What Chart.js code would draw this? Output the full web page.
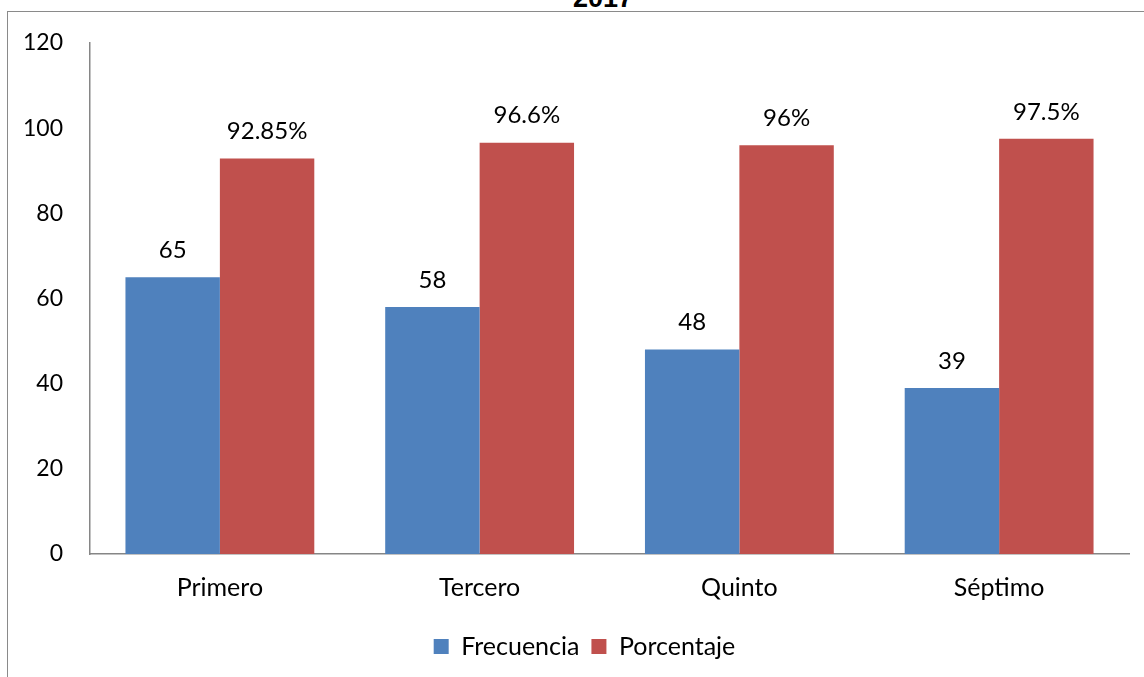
<!DOCTYPE html>
<html>
<head>
<meta charset="utf-8">
<script src="https://cdn.jsdelivr.net/npm/chart.js@4.4.0/dist/chart.umd.min.js"></script>
<style>
  body { margin: 0; background: #fff; overflow: hidden; }
  #wrap { position: relative; width: 1144px; height: 677px; }
  #frame { position: absolute; left: 7px; top: 11px; width: 1200px; height: 720px; border: 1px solid #8a8a8a; }
  #year { position: absolute; left: 553px; width: 100px; top: -17px; text-align: center;
          font: bold 27px "Liberation Sans", Arial, sans-serif; color: #000; }
  canvas { position: absolute; left: 0; top: 0; }
</style>
</head>
<body>
<div id="wrap">
  <div id="year">2017</div>
  <div id="frame"></div>
  <canvas id="myChart" width="1144" height="677"></canvas>
</div>
<script>
let grados = ["Primero", "Tercero", "Quinto", "Séptimo"];
let frecuencia = [65, 58, 48, 39];
let porcentaje = [92.85, 96.6, 96, 97.5];
let etiquetasPorcentaje = ["92.85%", "96.6%", "96%", "97.5%"];

let familia = "Lato, 'Open Sans', sans-serif";
let fuente = { family: familia, size: 25 };
let fuenteY = { family: familia, size: 23 };

// writes the value above each bar
let valueLabels = {
  id: "valueLabels",
  afterDatasetsDraw(chart) {
    let ctx = chart.ctx;
    ctx.save();
    ctx.font = "24px " + familia;
    ctx.fillStyle = "#000";
    ctx.textAlign = "center";
    ctx.textBaseline = "bottom";
    chart.data.datasets.forEach(function(ds, i) {
      chart.getDatasetMeta(i).data.forEach(function(bar, j) {
        let txt = i == 0 ? String(frecuencia[j]) : etiquetasPorcentaje[j];
        ctx.fillText(txt, bar.x, bar.y - 15);
      });
    });
    ctx.restore();
  }
};

// legend sits a bit right of the canvas centre
let legendShift = {
  id: "legendShift",
  afterLayout(chart) {
    chart.legend.left += 20;
    chart.legend.right += 20;
  }
};

new Chart("myChart", {
  type: "bar",
  data: {
    labels: grados,
    datasets: [
      { label: "Frecuencia", data: frecuencia, backgroundColor: "#4F81BD" },
      { label: "Porcentaje", data: porcentaje, backgroundColor: "#C0504D" }
    ]
  },
  options: {
    responsive: false,
    animation: false,
    categoryPercentage: 0.727,
    barPercentage: 1.0,
    layout: { padding: { top: 38, left: 0, right: 15, bottom: 8 } },
    plugins: {
      legend: {
        position: "bottom",
        labels: { color: "#000", font: fuente, boxWidth: 15, boxHeight: 15, padding: 12 }
      },
      tooltip: { enabled: false }
    },
    scales: {
      x: {
        grid: { display: false, drawTicks: false },
        border: { color: "#868686", width: 1.5 },
        ticks: { color: "#000", font: fuente, padding: 19 }
      },
      y: {
        min: 0,
        max: 120,
        grid: { display: false, drawTicks: false },
        border: { color: "#868686", width: 1.5 },
        ticks: { stepSize: 20, color: "#000", font: fuenteY, padding: 27 },
        afterFit: function(scale) {
          scale.width = 90;
          scale.paddingTop = 43;
        }
      }
    }
  },
  plugins: [valueLabels, legendShift]
});
</script>
</body>
</html>
